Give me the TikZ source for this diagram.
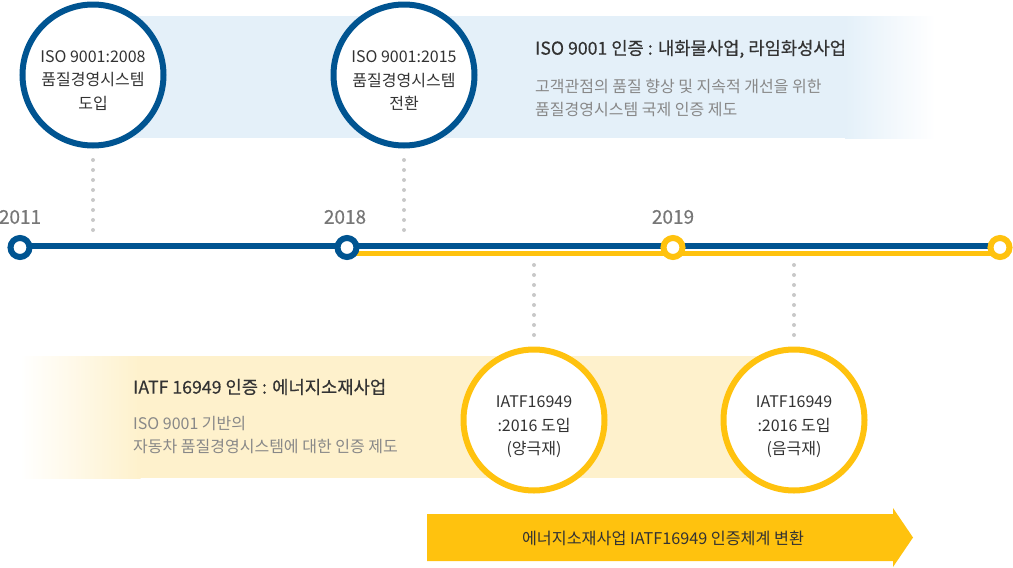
\documentclass[tikz,border=0pt]{standalone}
\usepackage{fontspec}
\setmainfont{Noto Sans CJK KR}
\newfontfamily\medfont[FakeBold=0.4]{Noto Sans CJK KR}
\definecolor{tlblue}{RGB}{0,84,145}
\definecolor{tlyel}{RGB}{255,194,14}
\definecolor{bandblue}{RGB}{228,240,249}
\definecolor{bandyel}{RGB}{254,241,204}
\definecolor{dotgray}{RGB}{200,200,200}
\definecolor{txtdark}{RGB}{51,51,51}
\definecolor{txtgray}{RGB}{136,136,136}
\definecolor{yeargray}{RGB}{119,119,119}
\pgfdeclarelayer{bg}
\pgfsetlayers{bg,main}
\begin{document}
\begin{tikzpicture}[x=1pt,y=-1pt,
  bigc/.style={circle, draw=#1, line width=6pt, fill=white, minimum size=141pt, inner sep=0pt},
  dotc/.style={circle, draw=#1, line width=6pt, fill=white, minimum size=19pt, inner sep=0pt},
  dots/.style={draw=dotgray, line width=4pt, line cap=round, dash pattern=on 0pt off 10pt},
  ctext/.style={align=center, font=\fontsize{16}{23.5}\selectfont, text=txtdark, inner sep=0pt},
  year/.style={font=\medfont\fontsize{19}{19}\selectfont, text=yeargray, inner sep=0pt},
  ttl/.style={anchor=west, font=\medfont\fontsize{17.7}{20}\selectfont, text=txtdark, inner sep=0pt},
  sub/.style={anchor=west, align=left, font=\fontsize{16}{23}\selectfont, text=txtgray, inner sep=0pt},
  ]
\useasboundingbox (0,0) rectangle (1013,568);

% timeline nodes
\node[dotc=tlblue] (t1) at (20,247.5) {};
\node[dotc=tlblue] (t2) at (347,247.5) {};
\node[dotc=tlyel] (t3) at (673,247.5) {};
\node[dotc=tlyel] (t4) at (1000,247.5) {};

% big circles
\node[bigc=tlblue] (c1) at (93,75) {};
\node[bigc=tlblue] (c2) at (404,75) {};
\node[bigc=tlyel] (c3) at (534,420) {};
\node[bigc=tlyel] (c4) at (794,420) {};

\node[ctext] (c1t) at (93,80.5) {ISO 9001:2008\\품질경영시스템\\도입};
\node[ctext] (c2t) at (404,80.5) {ISO 9001:2015\\품질경영시스템\\전환};
\node[ctext] (c3t) at (534,427) {IATF16949\\:2016 도입\\(양극재)};
\node[ctext] (c4t) at (794,427) {IATF16949\\:2016 도입\\(음극재)};

% years
\node[year] (y1) at (20,217) {2011};
\node[year] (y2) at (345,217) {2018};
\node[year] (y3) at (673,217) {2019};

% band texts
\node[ttl] (ttop) at (535,49) {ISO 9001 인증 : 내화물사업, 라임화성사업};
\node[sub] (stop) at (535,97.5) {고객관점의 품질 향상 및 지속적 개선을 위한\\품질경영시스템 국제 인증 제도};
\node[ttl] (tbot) at (133,387) {IATF 16949 인증 : 에너지소재사업};
\node[sub] (sbot) at (133,435.5) {ISO 9001 기반의\\자동차 품질경영시스템에 대한 인증 제도};

% arrow banner
\fill[tlyel] (427,514) -- (893,514) -- (893,508) -- (913,537.5) -- (893,567) -- (893,561) -- (427,561) -- cycle;
\node[font=\fontsize{16.2}{18}\selectfont, text=txtdark, inner sep=0pt] (arr) at (663,538) {에너지소재사업 IATF16949 인증체계 변환};

% dotted connectors
\coordinate (d1) at (93,231);
\coordinate (d2) at (404,231);
\coordinate (d3) at (534,265);
\coordinate (d4) at (794,265);

\begin{pgfonlayer}{bg}
  \fill[bandblue] (93,16) rectangle (845.5,138);
  \shade[left color=bandblue, right color=white] (845,16) rectangle (935,138);
  \shade[left color=white, right color=bandyel] (20,356) rectangle (140.5,478);
  \fill[bandyel] (140,356) rectangle (794,478);
  \draw[tlblue, line width=6pt] ([yshift=1.5pt]t1.center) -- ([yshift=1.5pt]t4.center);
  \draw[tlyel, line width=5.5pt] ([yshift=-6pt]t2.center) -- ([yshift=-6pt]t4.center);
  \draw[dots] ([yshift=-11.5pt]c1.south) -- (d1);
  \draw[dots] ([yshift=-11.5pt]c2.south) -- (d2);
  \draw[dots] (d3) -- ([yshift=11pt]c3.north);
  \draw[dots] (d4) -- ([yshift=11pt]c4.north);
\end{pgfonlayer}
\end{tikzpicture}
\end{document}
